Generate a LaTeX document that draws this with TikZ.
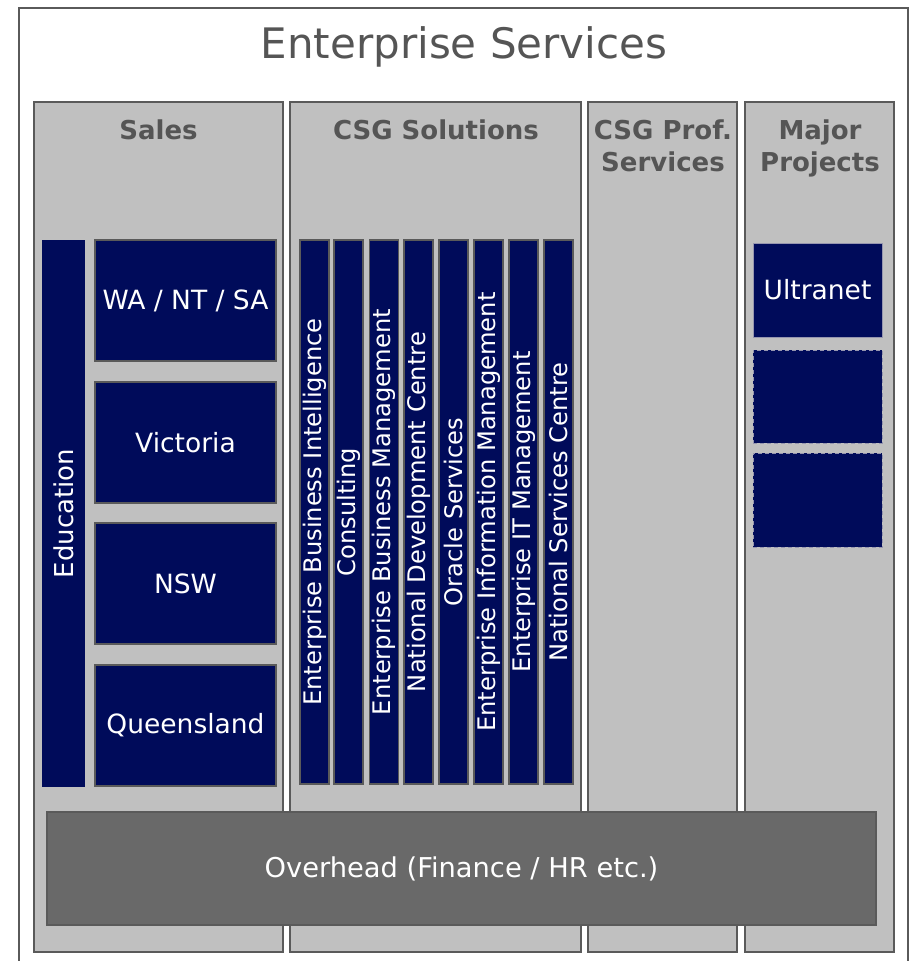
\documentclass[tikz,border=0pt]{standalone}
\usepackage{fontspec}
\setmainfont{DejaVu Sans}
\definecolor{navy}{RGB}{0,11,90}
\definecolor{colfill}{RGB}{192,192,192}
\definecolor{edge}{RGB}{90,90,90}
\definecolor{txtgray}{RGB}{85,85,85}
\definecolor{ovfill}{RGB}{105,105,105}
\definecolor{lightedge}{RGB}{150,150,175}
\tikzset{
  frame/.style={draw=edge, line width=1.6pt, fill=white},
  column/.style={draw=edge, line width=1.6pt, fill=colfill, inner sep=0pt, minimum height=850pt},
  header/.style={text=txtgray, font=\fontsize{26}{32}\selectfont\bfseries, align=center, inner sep=0pt},
  unitbox/.style={draw=edge, line width=1.6pt, fill=navy, text=white, inner sep=0pt, font=\fontsize{26.5}{30}\selectfont},
  plainbox/.style={fill=navy, text=white, inner sep=0pt, font=\fontsize{26}{30}\selectfont},
  bar/.style={unitbox, rotate=90, minimum width=544pt, minimum height=29pt, font=\fontsize{24.2}{28}\selectfont},
  projbox/.style={draw=lightedge, line width=0.8pt, fill=navy, text=white, inner sep=0pt, minimum width=129pt, font=\fontsize{26.5}{30}\selectfont},
  dashbox/.style={projbox, dash pattern=on 4pt off 3pt},
  overhead/.style={draw=edge, line width=1.6pt, fill=ovfill, text=white, inner sep=0pt, font=\fontsize{27.3}{30}\selectfont},
  title/.style={text=txtgray, inner sep=0pt, font=\fontsize{42}{49}\selectfont}
}
\begin{document}
\begin{tikzpicture}[x=1pt,y=-1pt]
\useasboundingbox (0,0) rectangle (910,961);
\node[frame, inner sep=0pt, minimum width=889pt, minimum height=980pt] (outer) at (463.5,498) {};
\node[title, anchor=base] (ttl) at (464,58) {Enterprise Services};
% columns
\node[column, minimum width=249pt] (sales) at (158.5,527) {};
\node[column, minimum width=291pt] (csg) at (435.5,527) {};
\node[column, minimum width=149pt] (prof) at (662.5,527) {};
\node[column, minimum width=149pt] (major) at (819.5,527) {};
% headers
\node[header] (hsales) at (158.5,130) {Sales};
\node[header] (hcsg) at (436,130) {CSG Solutions};
\node[header] (hprof) at (663,146) {CSG Prof.\\Services};
\node[header] (hmajor) at (820,148) {Major\\Projects};
% sales
\node[plainbox, rotate=90, minimum width=547pt, minimum height=43pt] (edu) at (63.5,513.5) {Education};
\node[unitbox, minimum width=181pt, minimum height=121pt] (wa) at (185.5,300.5) {WA / NT / SA};
\node[unitbox, minimum width=181pt, minimum height=121pt] (vic) at (185.5,442.5) {Victoria};
\node[unitbox, minimum width=181pt, minimum height=121pt] (nsw) at (185.5,583.5) {NSW};
\node[unitbox, minimum width=181pt, minimum height=121pt] (qld) at (185.5,725.5) {Queensland};
% csg bars
\node[bar] (b1) at (314.5,512) {Enterprise Business Intelligence};
\node[bar] (b2) at (348.5,512) {Consulting};
\node[bar] (b3) at (384,512) {Enterprise Business Management};
\node[bar] (b4) at (418.5,512) {National Development Centre};
\node[bar] (b5) at (453.5,512) {Oracle Services};
\node[bar] (b6) at (488.5,512) {Enterprise Information Management};
\node[bar] (b7) at (523.5,512) {Enterprise IT Management};
\node[bar] (b8) at (558.5,512) {National Services Centre};
% major projects
\node[projbox, minimum height=94pt] (ultra) at (817.5,290) {Ultranet};
\node[dashbox, minimum height=93pt] (p2) at (817.5,396.5) {};
\node[dashbox, minimum height=94pt] (p3) at (817.5,500) {};
% overhead
\node[overhead, minimum width=829pt, minimum height=113pt] (ovh) at (461.5,868.5) {Overhead (Finance / HR etc.)};
\end{tikzpicture}
\end{document}
